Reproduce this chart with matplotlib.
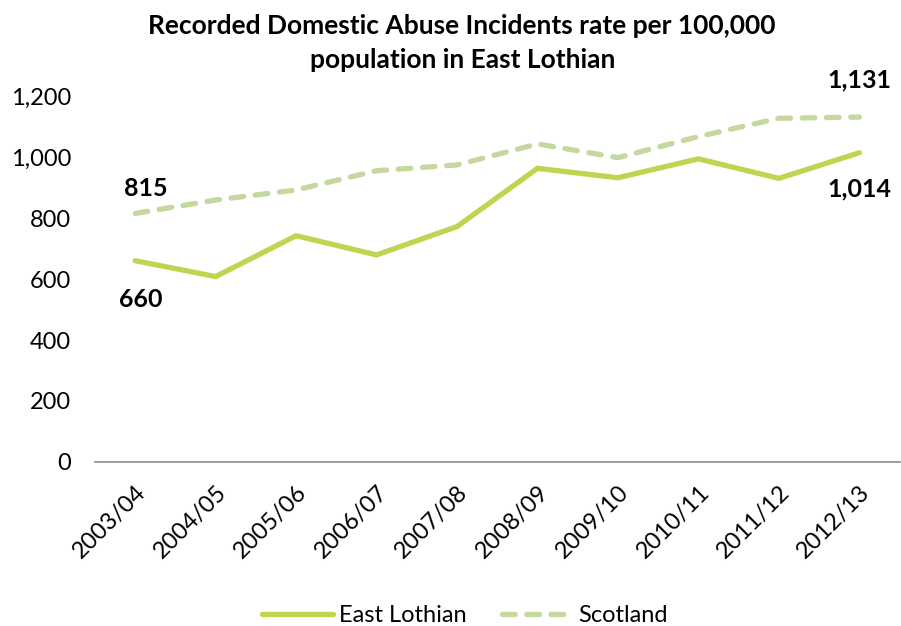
import matplotlib.pyplot as plt

plt.rcParams['font.family'] = ['Lato', 'DejaVu Sans']

years = ['2003/04', '2004/05', '2005/06', '2006/07', '2007/08',
         '2008/09', '2009/10', '2010/11', '2011/12', '2012/13']
east_lothian = [660, 608, 742, 679, 772, 963, 932, 994, 930, 1014]
scotland = [815, 859, 892, 955, 974, 1043, 998, 1067, 1127, 1131]

el_color = '#C0D450'
sc_color = '#C4D8A0'

fig = plt.figure(figsize=(9.01, 6.26), dpi=100)
ax = fig.add_axes([0.1054, 0.262, 0.893, 0.5846])

x = range(len(years))
ax.plot(x, east_lothian, color=el_color, lw=3.8, solid_capstyle='round',
        solid_joinstyle='miter', label='East Lothian')
ax.plot(x, scotland, color=sc_color, lw=3.8, dashes=(2.4, 2.2),
        dash_capstyle='round', label='Scotland')

ax.set_xlim(-0.5, len(years) - 0.5)
ax.set_ylim(0, 1200)
ax.set_yticks(range(0, 1201, 200))
ax.set_yticklabels([f'{v:,}' for v in range(0, 1201, 200)], fontsize=17)
ax.set_xticks(list(x))
ax.set_xticklabels(years, rotation=45, ha='right', rotation_mode='anchor',
                   fontsize=17)
ax.tick_params(axis='y', length=0, pad=17)
ax.tick_params(axis='x', length=0, pad=14)

for side in ['top', 'right', 'left']:
    ax.spines[side].set_visible(False)
ax.spines['bottom'].set_color('#8C8C8C')
ax.spines['bottom'].set_linewidth(1.2)

# first and last values labelled
lab = dict(fontsize=18, fontweight='bold', ha='center', va='center')
ax.annotate(f'{east_lothian[0]:,}', (0, east_lothian[0]), xytext=(4, -28),
            textcoords='offset points', **lab)
ax.annotate(f'{scotland[0]:,}', (0, scotland[0]), xytext=(8, 18),
            textcoords='offset points', **lab)
ax.annotate(f'{east_lothian[-1]:,}', (9, east_lothian[-1]), xytext=(0, -26),
            textcoords='offset points', **lab)
ax.annotate(f'{scotland[-1]:,}', (9, scotland[-1]), xytext=(0, 27),
            textcoords='offset points', **lab)

fig.suptitle('Recorded Domestic Abuse Incidents rate per 100,000\npopulation in East Lothian',
             x=0.513, y=0.978, fontsize=19, fontweight='bold', linespacing=1.5)

fig.legend(loc='center', bbox_to_anchor=(0.516, 0.017), ncol=2, frameon=False,
           fontsize=17, handlelength=3.0, columnspacing=1.5, handletextpad=0.25)

fig.savefig('out.png', dpi=100)
